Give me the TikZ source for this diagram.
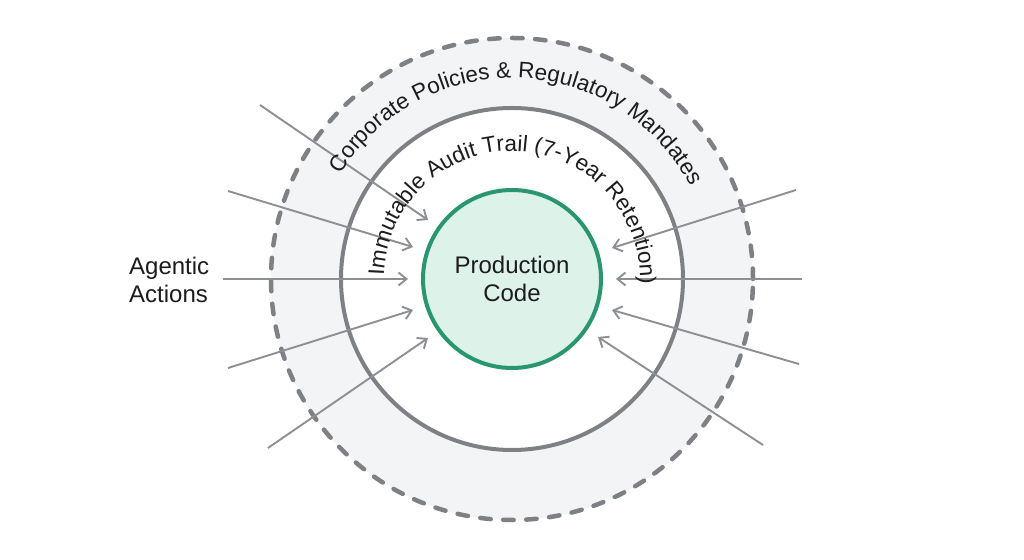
\documentclass[tikz,border=0pt]{standalone}
\usepackage{fontspec}
\setmainfont{Liberation Sans}
\usetikzlibrary{arrows.meta,decorations.text}
\definecolor{ringgray}{RGB}{125,129,134}
\definecolor{arrowgray}{RGB}{140,144,148}
\definecolor{lightfill}{RGB}{243,244,246}
\definecolor{greenline}{RGB}{42,150,112}
\definecolor{greenfill}{RGB}{221,242,233}
\definecolor{textdark}{RGB}{28,28,30}
\newcommand\arcfont{\fontsize{22.5}{26}\selectfont\color{textdark}}
\begin{document}
\begin{tikzpicture}[x=1pt,y=1pt,
  ringstyle/.style={circle, inner sep=0pt, draw=ringgray, line width=4pt},
  conn/.style={draw=arrowgray, line width=1.9pt, -{Straight Barb[length=8pt,width=13pt]}},
  labelstyle/.style={font=\fontsize{24}{28}\selectfont, text=textdark, inner sep=0pt}]
\useasboundingbox (0,0) rectangle (1024,559);
\fill[white] (0,0) rectangle (1024,559);
\coordinate (C) at (512,280);
% rings
\node[ringstyle, minimum size=482pt, fill=lightfill, line width=4.5pt, dash pattern=on 10.5pt off 12.5pt, line cap=round] (policy) at (C) {};
\node[ringstyle, minimum size=342pt, fill=white] (audit) at (C) {};
% arrow ends
\coordinate (l1s) at (260,454); \coordinate (l1e) at (428,339);
\coordinate (l2s) at (228,368); \coordinate (l2e) at (413,312);
\coordinate (l3s) at (223,280); \coordinate (l3e) at (408,280);
\coordinate (l4s) at (228,191); \coordinate (l4e) at (413,249);
\coordinate (l5s) at (268,111); \coordinate (l5e) at (428,221);
\coordinate (r1s) at (796,369); \coordinate (r1e) at (612,311);
\coordinate (r2s) at (802,280); \coordinate (r2e) at (616,280);
\coordinate (r3s) at (799,195); \coordinate (r3e) at (612,249);
\coordinate (r4s) at (763,114); \coordinate (r4e) at (598,222);
\foreach \a in {l1,l2,l3,l4,l5,r1,r2,r3,r4}{
  \draw[conn] (\a s) -- (\a e);
}
% core
\node[circle, inner sep=0pt, minimum size=178pt, fill=greenfill, draw=greenline, line width=4pt,
  align=center, font=\fontsize{24}{28}\selectfont, text=textdark] (code) at (C) {Production\\Code};
% left label
\node[labelstyle, anchor=west, align=left] (agent) at (129,279) {Agentic\\Actions};
% ring texts
\path[decorate, decoration={text along path, text align=center,
  text={|\arcfont|Corporate Policies {\&} Regulatory Mandates}}]
  ([shift={(188:201)}]C) arc[start angle=188, end angle=-12, radius=201];
\path[decorate, decoration={text along path, text align=center,
  text={|\arcfont|Immutable Audit Trail (7-Year Retention)}}]
  ([shift={(188:128)}]C) arc[start angle=188, end angle=-12, radius=128];
\end{tikzpicture}
\end{document}
